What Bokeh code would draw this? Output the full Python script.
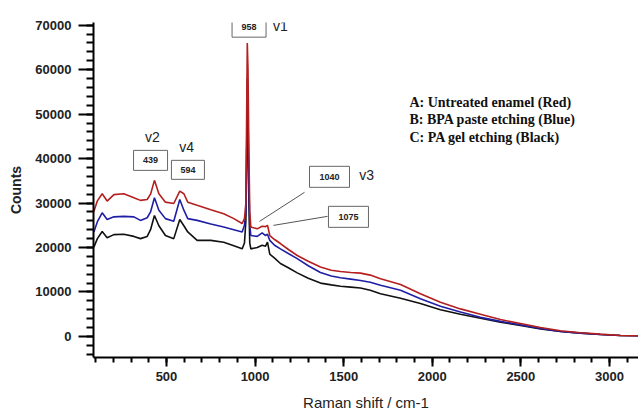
from bokeh.plotting import figure
from bokeh.models import Range1d, FixedTicker
from bokeh.core.properties import value
from bokeh.embed import file_html
from bokeh.resources import INLINE

# ---- data (Raman shift, cm-1) ----
shift = [90, 110, 137, 165, 203, 259, 316, 353, 391, 410, 432, 457, 494, 541, 575,
         598, 620, 673, 750, 823, 880, 927, 940, 948, 952, 956, 960, 965, 970, 976,
         1012, 1040, 1059, 1070, 1083, 1110, 1143, 1190, 1238, 1300, 1369, 1430, 1482,
         1540, 1595, 1650, 1708, 1821, 1933, 2046, 2159, 2272, 2385, 2498, 2611, 2724,
         2836, 2949, 3062, 3164]

untreated_red = [28100, 30500, 32100, 30450, 31900, 32100, 31200, 30600, 30800, 32000,
                 35100, 32100, 30200, 29900, 32700, 32100, 30200, 29500, 28500, 27600,
                 26500, 25400, 26500, 30000, 48000, 66000, 60000, 42000, 28000, 24600,
                 24200, 24800, 24700, 25000, 22700, 21800, 20900, 19500, 18200, 16900,
                 15600, 14900, 14600, 14400, 14250, 13800, 13000, 11700, 9600, 7700,
                 6200, 5000, 3800, 2900, 2000, 1300, 830, 520, 220, 150]

bpa_blue = [23500, 25800, 27800, 26300, 26900, 27000, 26900, 26100, 26700, 28000,
            31200, 28400, 26500, 25900, 30800, 28400, 26500, 26100, 25300, 24600,
            24000, 23500, 25000, 28000, 40000, 58000, 50000, 35000, 25000, 22700,
            22500, 23300, 22700, 23000, 21600, 20500, 19700, 18600, 17500, 15900,
            14400, 13600, 13200, 12900, 12600, 12200, 11500, 10400, 8500, 6800,
            5500, 4300, 3400, 2600, 1800, 1100, 750, 450, 220, 150]

pa_black = [20100, 22000, 23600, 22200, 22900, 23000, 22500, 22000, 22500, 24000,
            27200, 24900, 22700, 22000, 26300, 24900, 23500, 21600, 21600, 21200,
            20400, 19700, 21000, 26000, 38000, 55200, 45000, 30000, 21000, 19700,
            20000, 20500, 20300, 21200, 18500, 17600, 16400, 15400, 14300, 13100,
            12000, 11600, 11300, 11100, 10900, 10400, 9600, 8600, 7400, 6000,
            5000, 4100, 3200, 2500, 1700, 1100, 750, 450, 220, 150]

y_ticks = [0, 10000, 20000, 30000, 40000, 50000, 60000, 70000]
x_ticks = [500, 1000, 1500, 2000, 2500, 3000]

peak_labels = ["958", "439", "594", "1040", "1075"]
mode_labels = ["v1", "v2", "v4", "v3"]
legend_lines = ["A: Untreated enamel (Red)", "B: BPA paste etching (Blue)",
                "C: PA gel etching (Black)"]

RED = "#b41f1f"
BLUE = "#1f1fa6"
BLACK = "#111111"

p = figure(width=638, height=413, x_range=Range1d(88, 3164), y_range=Range1d(-4730, 70600),
           output_backend="svg", toolbar_location=None,
           min_border_left=93, min_border_right=0, min_border_top=22, min_border_bottom=56)
p.outline_line_color = None
p.xgrid.visible = False
p.ygrid.visible = False
p.background_fill_color = "white"
p.border_fill_color = "white"

p.line(shift, pa_black, line_color=BLACK, line_width=1.6)
p.line(shift, bpa_blue, line_color=BLUE, line_width=1.6)
p.line(shift, untreated_red, line_color=RED, line_width=1.6)

# axes
xa = p.xaxis[0]
xa.ticker = FixedTicker(ticks=x_ticks, minor_ticks=list(range(100, 3200, 100)))
xa.axis_line_width = 2
xa.major_tick_line_width = 2
xa.minor_tick_line_width = 2
xa.major_tick_out = 9
xa.major_tick_in = 0
xa.minor_tick_out = 5
xa.minor_tick_in = 0
xa.major_label_text_font = "Liberation Sans"
xa.major_label_text_font_style = "bold"
xa.major_label_text_font_size = "13px"
xa.major_label_text_color = "#222222"
xa.major_label_standoff = 5
xa.axis_label = "Raman shift / cm-1"
xa.axis_label_text_font = "Liberation Sans"
xa.axis_label_text_font_style = "normal"
xa.axis_label_text_font_size = "15px"
xa.axis_label_text_color = "#222222"
xa.axis_label_standoff = 10

ya = p.yaxis[0]
ya.ticker = FixedTicker(ticks=y_ticks, minor_ticks=list(range(-4000, 70001, 2000)))
ya.axis_line_width = 2
ya.major_tick_line_width = 2
ya.minor_tick_line_width = 2
ya.major_tick_out = 15
ya.major_tick_in = 0
ya.minor_tick_out = 7
ya.minor_tick_in = 0
ya.major_label_text_font = "Liberation Sans"
ya.major_label_text_font_style = "bold"
ya.major_label_text_font_size = "13px"
ya.major_label_text_color = "#222222"
ya.major_label_standoff = 7
ya.axis_label = "Counts"
ya.axis_label_text_font = "Liberation Sans"
ya.axis_label_text_font_style = "bold"
ya.axis_label_text_font_size = "14px"
ya.axis_label_text_color = "#222222"
ya.axis_label_standoff = 8

# peak label boxes (positions in data coordinates)
box_x = [966, 410, 621, 1420, 1527]
box_y = [69550, 39600, 37470, 35900, 26900]
box_w = [34, 34, 33, 40, 40]
box_h = [20, 20, 19, 21, 21]
p.rect(box_x, box_y, width=box_w, height=box_h, width_units="screen",
       height_units="screen", fill_color="white", line_color="#666666", line_width=1)
p.text(box_x, box_y, text=peak_labels, text_align="center", text_baseline="middle",
       text_font=value("Liberation Sans"), text_font_style="bold",
       text_font_size="9px", text_color="#222222")

# mode labels
mode_x = [1143, 421, 613, 1629]
mode_y = [69770, 44790, 42540, 36240]
p.text(mode_x, mode_y, text=mode_labels, text_align="center", text_baseline="middle",
       text_font=value("Liberation Sans"), text_font_size="14px", text_color="#222222")

# leader lines
p.segment(x0=[1279, 1409], y0=[32410, 27010], x1=[1025, 1104], y1=[25880, 24980],
          line_color="#555555", line_width=1)

# legend text
leg_x = [1871, 1871, 1871]
leg_y = [52670, 48840, 44790]
p.text(leg_x, leg_y, text=legend_lines, text_align="left", text_baseline="middle",
       text_font=value("Liberation Serif"), text_font_style="bold",
       text_font_size="14px", text_color="#111111")

open("out.html", "w").write(file_html(p, INLINE))
